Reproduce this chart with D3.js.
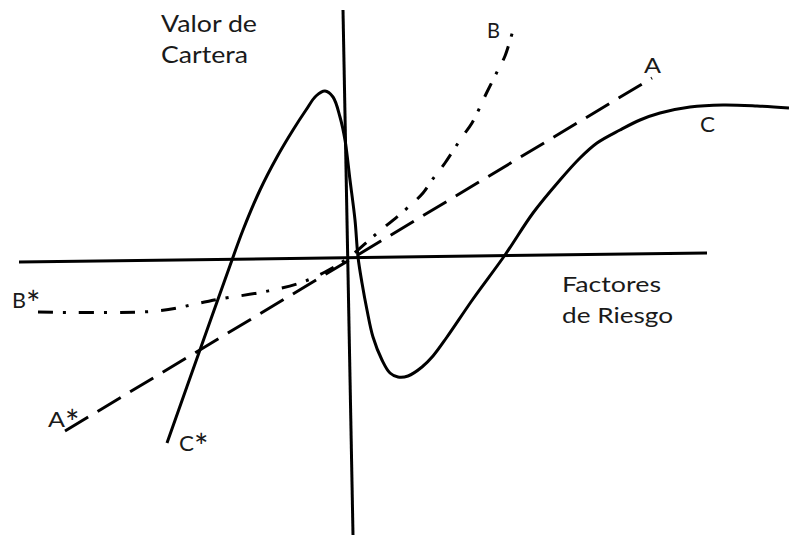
<!DOCTYPE html>
<html>
<head>
<meta charset="utf-8">
<script src="https://cdn.jsdelivr.net/npm/d3@7"></script>
<style>
  html, body { margin: 0; padding: 0; background: #fff; }
  svg { display: block; }
  text { font-family: Lato, "Open Sans", sans-serif; fill: #1a1a1a; }
</style>
</head>
<body>
<div id="chart"></div>
<script>
// ---- Data (units: factor value on x, portfolio value on y; origin at axis crossing) ----
const axisX = [[-32.9, -0.4], [35.9, 0.5]];
const axisY = [[-0.5, 24.8], [0.5, -27.7]];

const seriesA = [[-28.3, -17.3], [30.4, 18.0]];

const seriesB = [
  [-31.0, -5.4], [-19.1, -5.3], [-14.8, -4.5], [-12.8, -4.1], [-8.5, -3.4],
  [-4.8, -2.5], [-2.3, -1.4], [0, 0], [2.7, 2.3], [5.7, 4.8], [7.5, 6.5],
  [8.4, 7.8], [9.7, 9.5], [11.4, 12.1], [12.4, 13.5], [13.9, 16.6],
  [15.0, 18.8], [15.7, 20.2], [16.7, 23.5]
];

const seriesC = [
  [-18.1, -18.5], [-14.7, -8.9], [-11.6, -0.2], [-10.5, 2.8], [-8.8, 6.8],
  [-7.1, 10.1], [-5.5, 12.8], [-4.2, 14.8], [-3.2, 16.2], [-2.3, 16.7],
  [-1.5, 16.1], [-0.8, 14.1], [-0.3, 11.8], [0.2, 7.8], [0.7, 3.8],
  [1.0, 0.1], [1.4, -2.5], [1.9, -5.2], [2.5, -7.9], [3.4, -10.2],
  [4.2, -11.5], [5.0, -11.9], [6.0, -11.8], [7.4, -10.9], [8.5, -9.8],
  [9.9, -7.9], [12.5, -4.1], [15.7, 0.3], [18.5, 4.5],
  [21.2, 7.8], [23.2, 10.0], [24.9, 11.5], [27.2, 12.8], [29.2, 13.8],
  [31.2, 14.5], [34.2, 15.1], [37.5, 15.3], [40.9, 15.2], [44.1, 15.0]
];

const labelTexts = ["Valor de", "Cartera", "Factores", "de Riesgo", "A", "B", "C", "A", "B", "C"];
const starMarks = [false, false, false, false, false, false, false, true, true, true];

// ---- Layout ----
const W = 789, H = 536;
const x = d3.scaleLinear().domain([-34.8, 44.1]).range([0, W]);
const y = d3.scaleLinear().domain([25.8, -27.8]).range([0, H]);

const svg = d3.select("#chart").append("svg").attr("width", W).attr("height", H);

const line = d3.line().x(d => x(d[0])).y(d => y(d[1]));
const smooth = d3.line().x(d => x(d[0])).y(d => y(d[1])).curve(d3.curveCatmullRom.alpha(0.5));

// axes
[axisX, axisY].forEach(a => {
  svg.append("path").attr("d", line(a))
    .attr("fill", "none").attr("stroke", "#000").attr("stroke-width", 3);
});

// A (dashed)
svg.append("path").attr("d", line(seriesA))
  .attr("fill", "none").attr("stroke", "#000").attr("stroke-width", 3)
  .attr("stroke-dasharray", "27,11");

// B (dash-dot)
svg.append("path").attr("d", smooth(seriesB))
  .attr("fill", "none").attr("stroke", "#000").attr("stroke-width", 3)
  .attr("stroke-dasharray", "15,10,3,13");

// C (solid)
svg.append("path").attr("d", smooth(seriesC))
  .attr("fill", "none").attr("stroke", "#000").attr("stroke-width", 3)
  .attr("stroke-linejoin", "round");

// labels: [text index, x, y (baseline), width of main text, size]
const labelPos = [
  [0, -18.7, 22.6, 96, 23],
  [1, -18.7, 19.5, 87, 23],
  [2, 21.4, -3.4, 99, 22],
  [3, 21.4, -6.5, 111, 22],
  [4, 29.6, 18.5, 17, 22],
  [5, 13.9, 22.0, 13, 22],
  [6, 35.2, 12.6, 15, 22],
  [7, -30.0, -16.9, 17, 22],
  [8, -33.6, -5.0, 14, 22],
  [9, -16.9, -19.3, 15, 22]
];

labelPos.forEach(([i, lx, ly, w, s]) => {
  const t = svg.append("text")
    .attr("x", x(lx)).attr("y", y(ly))
    .attr("font-size", s);
  t.append("tspan")
    .attr("textLength", w).attr("lengthAdjust", "spacingAndGlyphs")
    .text(labelTexts[i]);
  if (starMarks[i]) {
    t.append("tspan").attr("font-size", s * 1.55).attr("dy", 8).text("*");
  }
});
</script>
</body>
</html>
